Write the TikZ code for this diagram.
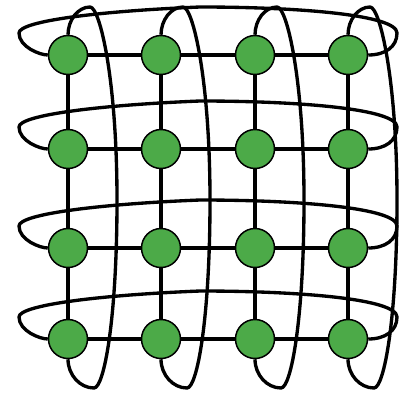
\documentclass[tikz,border=0pt]{standalone}
\usepackage{tikz}

\definecolor{vgreen}{RGB}{76,170,72}
\tikzset{
  vertex/.style={circle, draw=black, line width=0.85pt, fill=vgreen, minimum size=0.78cm, inner sep=0pt},
  link/.style={line width=1.9pt}
}

\begin{document}
\begin{tikzpicture}[x=0.02cm, y=-0.02cm]
\useasboundingbox (0,0) rectangle (405,396);
% grid vertices
\foreach \i/\x in {0/68,1/161,2/255,3/348}
\foreach \j/\y in {0/55,1/149,2/248,3/339}
{\node[vertex] (v\i\j) at (\x,\y) {};}
% mesh links
\foreach \j in {0,...,3}
{\draw[link] (v0\j) -- (v1\j) (v1\j) -- (v2\j) (v2\j) -- (v3\j);
 \draw[link] (v\j0) -- (v\j1) (v\j1) -- (v\j2) (v\j2) -- (v\j3);}
% wrap-around links of the rows
\foreach \j/\y in {0/55,1/149,2/248,3/339}
{\draw[link] (v0\j.west) .. controls (40,\y) and (19,\y-8) .. (19,\y-22)
  .. controls (19,\y-34) and (100,\y-44) .. (200,\y-48)
  .. controls (300,\y-48) and (397,\y-40) .. (397,\y-22)
  .. controls (397,\y-8) and (385,\y) .. (v3\j.east);}
% wrap-around links of the columns
\foreach \i/\x in {0/68,1/161,2/255,3/348}
{\draw[link] (v\i0.north) .. controls (\x,20) and (\x+10,7) .. (\x+22,7)
  .. controls (\x+32,7) and (\x+49,80) .. (\x+49,200)
  .. controls (\x+49,320) and (\x+36,388) .. (\x+26,388)
  .. controls (\x+12,388) and (\x,375) .. (v\i3.south);}
\end{tikzpicture}
\end{document}
